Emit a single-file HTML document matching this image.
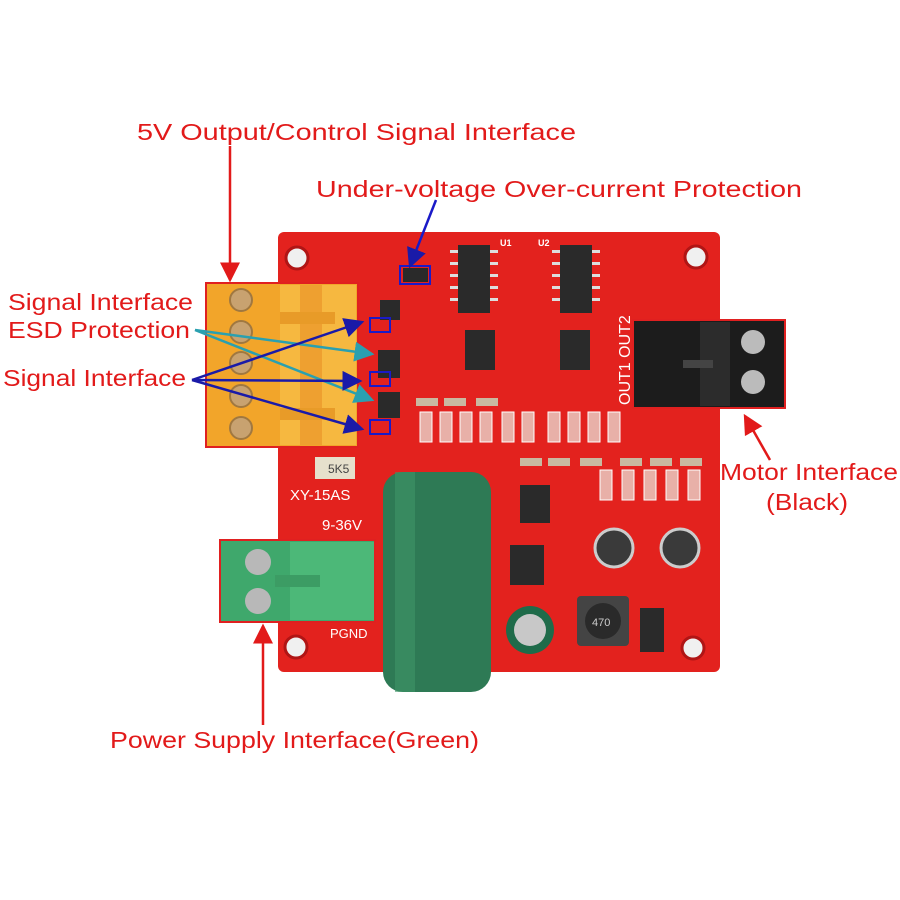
<!DOCTYPE html>
<html><head><meta charset="utf-8"><style>
html,body{margin:0;padding:0;background:#fff;width:900px;height:900px;overflow:hidden}
svg{display:block}
text{font-family:"Liberation Sans",sans-serif}
.lbl{fill:#e21a1a;font-size:23px}
.sm{fill:#fff;font-size:9px;font-weight:bold}
</style></head><body>
<svg width="900" height="900" viewBox="0 0 900 900" xmlns="http://www.w3.org/2000/svg">
<defs>
<marker id="ar" markerWidth="8" markerHeight="8" refX="7" refY="4" orient="auto"><path d="M0,0 L8,4 L0,8 z" fill="#e21a1a"/></marker>
<marker id="ab" markerWidth="8" markerHeight="8" refX="7" refY="4" orient="auto"><path d="M0,0 L8,4 L0,8 z" fill="#1a1aa8"/></marker>
<marker id="at" markerWidth="8" markerHeight="8" refX="7" refY="4" orient="auto"><path d="M0,0 L8,4 L0,8 z" fill="#2aa0b0"/></marker>
</defs>
<rect x="278" y="232" width="442" height="440" rx="6" fill="#e3221e"/>
<g fill="#f0f0f0" stroke="#b01515" stroke-width="3">
<circle cx="297" cy="258" r="11"/><circle cx="696" cy="257" r="11"/>
<circle cx="296" cy="647" r="11"/><circle cx="693" cy="648" r="11"/>
</g>
<g fill="#2a2a2a">
<rect x="458" y="245" width="32" height="68"/><rect x="560" y="245" width="32" height="68"/>
<rect x="465" y="330" width="30" height="40"/><rect x="560" y="330" width="30" height="40"/>
<rect x="520" y="485" width="30" height="38"/><rect x="510" y="545" width="34" height="40"/>
<rect x="380" y="300" width="20" height="20"/><rect x="378" y="350" width="22" height="28"/><rect x="378" y="392" width="22" height="26"/>
<rect x="640" y="608" width="24" height="44"/>
<rect x="403" y="268" width="25" height="14"/>
</g>
<g fill="#ddd">
<rect x="450" y="250" width="8" height="3"/><rect x="450" y="262" width="8" height="3"/><rect x="450" y="274" width="8" height="3"/><rect x="450" y="286" width="8" height="3"/><rect x="450" y="298" width="8" height="3"/>
<rect x="490" y="250" width="8" height="3"/><rect x="490" y="262" width="8" height="3"/><rect x="490" y="274" width="8" height="3"/><rect x="490" y="286" width="8" height="3"/><rect x="490" y="298" width="8" height="3"/>
<rect x="552" y="250" width="8" height="3"/><rect x="552" y="262" width="8" height="3"/><rect x="552" y="274" width="8" height="3"/><rect x="552" y="286" width="8" height="3"/><rect x="552" y="298" width="8" height="3"/>
<rect x="592" y="250" width="8" height="3"/><rect x="592" y="262" width="8" height="3"/><rect x="592" y="274" width="8" height="3"/><rect x="592" y="286" width="8" height="3"/><rect x="592" y="298" width="8" height="3"/>
</g>
<g fill="#e8b0a8" stroke="#fff" stroke-width="1">
<rect x="420" y="412" width="12" height="30"/><rect x="440" y="412" width="12" height="30"/><rect x="460" y="412" width="12" height="30"/><rect x="480" y="412" width="12" height="30"/><rect x="502" y="412" width="12" height="30"/><rect x="522" y="412" width="12" height="30"/><rect x="548" y="412" width="12" height="30"/><rect x="568" y="412" width="12" height="30"/><rect x="588" y="412" width="12" height="30"/><rect x="608" y="412" width="12" height="30"/>
<rect x="600" y="470" width="12" height="30"/><rect x="622" y="470" width="12" height="30"/><rect x="644" y="470" width="12" height="30"/><rect x="666" y="470" width="12" height="30"/><rect x="688" y="470" width="12" height="30"/>
</g>
<g fill="#c9b9a0">
<rect x="416" y="398" width="22" height="8"/><rect x="444" y="398" width="22" height="8"/><rect x="476" y="398" width="22" height="8"/>
<rect x="520" y="458" width="22" height="8"/><rect x="548" y="458" width="22" height="8"/><rect x="580" y="458" width="22" height="8"/><rect x="620" y="458" width="22" height="8"/><rect x="650" y="458" width="22" height="8"/><rect x="680" y="458" width="22" height="8"/>
</g>
<circle cx="614" cy="548" r="19" fill="#3a3a3a" stroke="#ccc" stroke-width="3"/>
<circle cx="680" cy="548" r="19" fill="#3a3a3a" stroke="#ccc" stroke-width="3"/>
<rect x="577" y="596" width="52" height="50" rx="4" fill="#444"/>
<circle cx="603" cy="621" r="18" fill="#2a2a2a"/>
<text x="592" y="626" fill="#ccc" font-size="11">470</text>
<circle cx="530" cy="630" r="24" fill="#1f6b4a"/><circle cx="530" cy="630" r="16" fill="#c8c8c8"/>
<rect x="315" y="457" width="40" height="22" fill="#e6e0cc"/><text x="328" y="473" font-size="12" fill="#444">5K5</text>
<text x="290" y="500" fill="#fff" font-size="15">XY-15AS</text>
<text x="322" y="530" fill="#fff" font-size="15">9-36V</text>
<text x="330" y="638" fill="#fff" font-size="13">PGND</text>
<text class="sm" x="500" y="246">U1</text><text class="sm" x="538" y="246">U2</text>
<text fill="#fff" font-size="16" transform="translate(630,405) rotate(-90)">OUT1 OUT2</text>
<rect x="206" y="283" width="152" height="164" fill="#f2a52a" stroke="#e02020" stroke-width="2"/>
<rect x="280" y="285" width="76" height="160" fill="#f6b840"/>
<rect x="300" y="285" width="22" height="160" fill="#eea030"/>
<rect x="280" y="312" width="55" height="12" fill="#e89b28"/>
<rect x="280" y="408" width="55" height="12" fill="#e89b28"/>
<g fill="#c8a270" stroke="#a07840" stroke-width="2">
<circle cx="241" cy="300" r="11"/><circle cx="241" cy="332" r="11"/><circle cx="241" cy="363" r="11"/><circle cx="241" cy="396" r="11"/><circle cx="241" cy="428" r="11"/>
</g>
<rect x="633" y="320" width="152" height="88" fill="#1c1c1c" stroke="#e02020" stroke-width="2"/>
<rect x="700" y="322" width="30" height="84" fill="#2c2c2c"/>
<rect x="683" y="360" width="30" height="8" fill="#444"/>
<circle cx="753" cy="342" r="12" fill="#bbb"/><circle cx="753" cy="382" r="12" fill="#bbb"/>
<rect x="220" y="540" width="155" height="82" fill="#3fa86c" stroke="#e02020" stroke-width="2"/>
<rect x="290" y="542" width="84" height="78" fill="#4cb878"/>
<rect x="275" y="575" width="45" height="12" fill="#3c9c64"/>
<circle cx="258" cy="562" r="13" fill="#b8b8b8"/><circle cx="258" cy="601" r="13" fill="#b8b8b8"/>
<rect x="383" y="472" width="108" height="220" rx="20" fill="#2e7a55"/>
<rect x="395" y="472" width="20" height="220" fill="#3f9468" opacity="0.6"/>
<g fill="none" stroke="#1a1ac8" stroke-width="2">
<rect x="400" y="266" width="30" height="18"/><rect x="370" y="318" width="20" height="14"/><rect x="370" y="372" width="20" height="14"/><rect x="370" y="420" width="20" height="14"/>
</g>
<text class="lbl" x="137" y="140" textLength="439" lengthAdjust="spacingAndGlyphs">5V Output/Control Signal Interface</text>
<text class="lbl" x="316" y="197" textLength="486" lengthAdjust="spacingAndGlyphs">Under-voltage Over-current Protection</text>
<text class="lbl" x="8" y="310" textLength="185" lengthAdjust="spacingAndGlyphs">Signal Interface</text>
<text class="lbl" x="8" y="338" textLength="182" lengthAdjust="spacingAndGlyphs">ESD Protection</text>
<text class="lbl" x="3" y="386" textLength="183" lengthAdjust="spacingAndGlyphs">Signal Interface</text>
<text class="lbl" x="720" y="480" textLength="178" lengthAdjust="spacingAndGlyphs">Motor Interface</text>
<text class="lbl" x="766" y="510" textLength="82" lengthAdjust="spacingAndGlyphs">(Black)</text>
<text class="lbl" x="110" y="748" textLength="369" lengthAdjust="spacingAndGlyphs">Power Supply Interface(Green)</text>
<g stroke-width="2.5" fill="none">
<line x1="230" y1="146" x2="230" y2="280" stroke="#e21a1a" marker-end="url(#ar)"/>
<line x1="770" y1="460" x2="745" y2="416" stroke="#e21a1a" marker-end="url(#ar)"/>
<line x1="263" y1="725" x2="263" y2="626" stroke="#e21a1a" marker-end="url(#ar)"/>
<line x1="436" y1="200" x2="410" y2="266" stroke="#1a1ac8" marker-end="url(#ab)"/>
<line x1="195" y1="330" x2="372" y2="354" stroke="#2aa0b0" marker-end="url(#at)"/>
<line x1="195" y1="330" x2="372" y2="400" stroke="#2aa0b0" marker-end="url(#at)"/>
<line x1="192" y1="380" x2="362" y2="322" stroke="#1a1aa8" marker-end="url(#ab)"/>
<line x1="192" y1="380" x2="360" y2="381" stroke="#1a1aa8" marker-end="url(#ab)"/>
<line x1="192" y1="380" x2="362" y2="429" stroke="#1a1aa8" marker-end="url(#ab)"/>
</g>
</svg>
</body></html>
